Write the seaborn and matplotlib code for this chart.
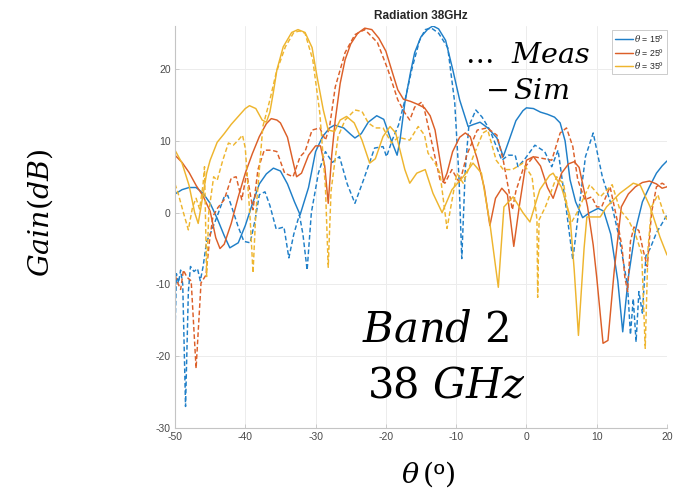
import matplotlib
matplotlib.use("Agg")
import matplotlib.pyplot as plt
from matplotlib.lines import Line2D
import pandas as pd
import seaborn as sns

# Steering angles of the three beams and their line colours
ANGLES = ["15", "25", "35"]
COLORS = {"15": "#1f7fc8", "25": "#dc5f28", "35": "#eeb52e"}
X_TICKS = [-50, -40, -30, -20, -10, 0, 10, 20]
Y_TICKS = [-30, -20, -10, 0, 10, 20]

# Simulated gain (dB) versus theta (deg)
SIM_15 = [(-50, 2.6), (-49, 3.2), (-48, 3.5), (-47, 3.5), (-46, 2.7), (-45, 1.3), (-44, -0.8),
          (-43, -3.2), (-42.2, -4.9), (-41, -4.2), (-40, -1.8), (-39, 1.2), (-38, 4.0), (-37, 5.4),
          (-36, 6.2), (-35, 5.8), (-34, 4.0), (-33, 1.5), (-32.2, -0.3), (-31, 3.5), (-30, 8.5),
          (-29, 10.6), (-28, 11.8), (-27.3, 12.2), (-26, 11.8), (-25, 10.9), (-24.4, 10.4),
          (-23.5, 11.0), (-22.5, 12.6), (-21.3, 13.5), (-20.3, 13.0), (-19.4, 10.5), (-18.4, 8.0),
          (-18, 10.0), (-17.3, 15.3), (-16.5, 19.5), (-15.9, 22.3), (-15, 24.5), (-14, 25.6),
          (-13.3, 26.0), (-12.5, 25.6), (-11.5, 24.0), (-10.5, 20.0), (-9.5, 15.7), (-8.3, 12.0),
          (-7.5, 12.3), (-6.6, 12.6), (-5.5, 11.8), (-4.2, 10.4), (-3.3, 7.8), (-2.5, 10.0),
          (-1.5, 12.8), (-0.5, 14.2), (0, 14.6), (1, 14.5), (2, 14.0), (3, 13.7), (4, 13.3),
          (4.8, 12.5), (5.5, 10.0), (6.2, 4.6), (7, 1.5), (8, -0.7), (9, 0.0), (10.2, 0.6),
          (11, 0.2), (12, -3.0), (13, -9.5), (13.7, -16.6), (14.5, -9.0), (15.5, -2.5),
          (16.5, 1.5), (17.5, 3.6), (18.5, 5.5), (19.3, 6.5), (20, 7.2)]

SIM_25 = [(-50, 8.0), (-49, 7.0), (-48, 5.6), (-47, 3.8), (-46, 2.3), (-45, 0.2), (-44.2, -3.5),
          (-43.6, -5.0), (-43, -4.4), (-42, -1.5), (-41, 2.2), (-40, 5.5), (-39, 8.2), (-38, 10.6),
          (-37, 12.4), (-36.3, 13.1), (-35.5, 12.9), (-35, 12.5), (-34, 10.5), (-33.3, 7.5),
          (-32.7, 5.0), (-32, 5.5), (-31, 8.0), (-30, 9.3), (-29.3, 9.3), (-28.7, 6.5),
          (-28.2, 1.3), (-27.7, 8.0), (-27.2, 12.9), (-26.5, 18.0), (-25.8, 21.3), (-25, 23.5),
          (-24, 25.0), (-23, 25.7), (-22, 25.5), (-21, 24.3), (-20, 22.5), (-19, 19.3),
          (-18.3, 17.1), (-17.5, 15.8), (-16.5, 15.5), (-15.5, 15.1), (-14.5, 14.6),
          (-13.7, 13.5), (-13, 11.5), (-12.5, 8.5), (-11.8, 4.3), (-11.3, 5.5), (-10.5, 8.5),
          (-9.5, 10.5), (-8.7, 11.1), (-8, 10.6), (-7, 7.5), (-6, 3.5), (-5.2, -1.8), (-4.4, 2.0),
          (-3.5, 3.4), (-2.7, 2.5), (-1.8, -4.7), (-1, 1.0), (0, 7.3), (1, 7.8), (2, 6.5),
          (3, 3.5), (3.8, 2.0), (5, 5.5), (6, 6.8), (6.8, 7.1), (7.5, 6.3), (8, 4.0), (8.7, 0.8),
          (9.5, -4.5), (10, -9.0), (10.9, -18.2), (11.6, -17.8), (12.5, -8.0), (13.5, 0.8),
          (14.5, 2.6), (15.5, 3.6), (16.5, 4.2), (17.5, 4.4), (18.5, 4.0), (19.3, 3.4), (20, 3.6)]

SIM_35 = [(-50, 8.7), (-49, 6.9), (-48, 3.8), (-47.2, 0.0), (-46.7, -1.5), (-46.3, 0.8),
          (-45.5, 5.5), (-45, 7.3), (-44, 9.8), (-43, 11.0), (-42, 12.3), (-41, 13.4), (-40, 14.5),
          (-39.4, 14.9), (-38.5, 14.5), (-37.6, 12.9), (-37, 12.6), (-36.5, 14.0), (-36, 16.8),
          (-35.5, 19.9), (-34.6, 23.1), (-33.4, 25.1), (-32.5, 25.5), (-31.5, 25.1), (-30.5, 23.0),
          (-29.8, 19.0), (-28.9, 14.3), (-28.2, 11.5), (-27.3, 11.3), (-26.5, 12.9), (-25.6, 13.4),
          (-24.5, 12.5), (-23.4, 10.1), (-22.3, 6.9), (-21.5, 7.5), (-20.4, 10.6), (-19.4, 12.0),
          (-18.6, 11.1), (-17.3, 6.0), (-16.6, 4.1), (-15.6, 5.5), (-14.4, 6.0), (-13.3, 2.7),
          (-12, 0.0), (-10.6, 3.2), (-9, 5.0), (-7.6, 6.9), (-6.4, 5.5), (-5.2, -1.5),
          (-4.0, -10.4), (-3.2, 0.8), (-1.9, 2.2), (-0.5, 0.0), (0.5, -1.3), (1.9, 3.2),
          (3.3, 5.2), (3.8, 5.5), (5, 3.5), (6.2, -0.5), (6.8, -8.0), (7.4, -17.1), (8.2, -5.0),
          (8.6, -0.6), (10.5, -0.6), (11.4, 0.8), (13.3, 2.7), (15.2, 4.1), (16.2, 3.8),
          (17.6, 0.8), (19, -3.4), (20, -5.9)]

# Measured gain (dB) versus theta (deg)
MEAS_15 = [(-50, -17.0), (-49.8, -8.5), (-49.5, -9.8), (-49.2, -8.0), (-48.9, -10.0),
           (-48.5, -27.0), (-48.1, -11.0), (-47.8, -7.5), (-47.3, -8.2), (-46.8, -7.8),
           (-46.4, -9.5), (-46, -7.5), (-45.5, -4.0), (-45, -3.0), (-44, -0.5), (-43, 2.2),
           (-42.5, 2.4), (-42, 1.0), (-41, -2.0), (-40.2, -4.0), (-39.3, -4.2), (-38.6, -1.0),
           (-38, 2.5), (-37.2, 2.9), (-36.5, 1.0), (-35.6, -2.3), (-34.5, -2.0), (-33.8, -6.3),
           (-33.1, -3.0), (-32.3, -0.3), (-31.8, -3.0), (-31.2, -8.0), (-30.6, 0.0), (-29.6, 5.5),
           (-28.6, 8.5), (-27.6, 7.0), (-26.6, 7.8), (-25.5, 4.0), (-24.4, 1.3), (-23.2, 4.5),
           (-21.6, 9.0), (-20.4, 9.2), (-19.9, 7.8), (-19.1, 10.1), (-18.2, 12.2), (-17.2, 16.0),
           (-16.3, 20.0), (-15.2, 24.0), (-14.4, 25.5), (-13.5, 25.7), (-12.5, 25.0),
           (-11.2, 23.0), (-10.2, 15.3), (-9.6, 5.0), (-9.2, -6.4), (-8.7, 6.0), (-8.2, 12.0),
           (-7.2, 14.3), (-6.3, 13.3), (-5.2, 11.5), (-3.5, 7.3), (-2.6, 8.0), (-1.6, 8.0),
           (-1.2, 6.4), (-0.2, 7.5), (1.2, 9.4), (2.6, 8.5), (3.6, 6.4), (4.5, 8.7), (5.6, 1.0),
           (6.6, -6.6), (7.4, 0.0), (8.4, 7.8), (9.5, 11.1), (10.8, 5.0), (12.3, 0.4),
           (13.2, -3.5), (14, -8.0), (14.4, -10.4), (14.8, -17.0), (15.2, -12.0), (15.6, -18.0),
           (16.0, -11.0), (16.5, -14.0), (17.0, -6.0), (17.6, -5.0), (18.5, -2.8), (19.3, -1.5),
           (20, -0.3)]

MEAS_25 = [(-50, -8.7), (-49.6, -9.8), (-49.2, -10.7), (-48.8, -8.0), (-48.3, -9.0),
           (-47.7, -9.5), (-47.0, -21.7), (-46.3, -9.8), (-45.6, -8.7), (-45.1, -4.0),
           (-44.6, -0.5), (-43.9, 0.7), (-43, 1.8), (-42, 4.8), (-41.3, 5.0), (-40.5, 1.8),
           (-39.8, 5.5), (-38.9, 0.4), (-38.2, 6.0), (-37.3, 8.7), (-36.3, 8.7), (-35.5, 8.5),
           (-34.4, 5.5), (-33.2, 5.0), (-32.2, 7.8), (-31.5, 8.5), (-30.5, 11.5), (-29.4, 11.8),
           (-28.6, 10.1), (-28, 12.0), (-27.2, 17.5), (-25.8, 22.3), (-24.4, 24.8), (-23, 25.5),
           (-21.2, 23.7), (-19.7, 19.9), (-18.3, 15.7), (-17.3, 13.9), (-16.6, 12.9),
           (-15.9, 14.7), (-14.9, 15.4), (-14.5, 14.3), (-13.7, 10.8), (-12.3, 4.6),
           (-11.6, 4.1), (-10.6, 6.0), (-9.5, 4.1), (-8.5, 8.0), (-7, 11.5), (-5.6, 11.8),
           (-4.2, 10.8), (-3.3, 7.3), (-2.0, 0.4), (-1.5, 3.0), (-0.5, 6.0), (1.0, 7.8),
           (2.6, 7.5), (3.6, 7.3), (4.8, 11.1), (5.7, 11.8), (6.6, 9.2), (7.3, 4.6), (8.3, 1.8),
           (9.3, 2.2), (10.0, 0.8), (10.7, 0.8), (11.9, 3.6), (12.9, -1.0), (13.6, -4.8),
           (14.0, -9.0), (14.4, -11.0), (14.8, -4.0), (15.3, -2.0), (16.0, -2.5), (16.6, -5.2),
           (17.2, -7.5), (17.8, 0.0), (18.5, 3.6), (19.3, 4.1), (20, 3.7)]

MEAS_35 = [(-50, 4.0), (-49.5, 2.5), (-48.8, 0.0), (-48.1, -2.4), (-47.5, 0.8), (-47, 2.0),
           (-46.5, 0.5), (-46, 4.0), (-45.8, 6.4), (-45.5, -8.9), (-45.2, 0.0), (-44.5, 5.0),
           (-44, 4.5), (-43.2, 7.3), (-42.4, 9.7), (-41.7, 9.4), (-41, 10.1), (-40.4, 10.8),
           (-40, 9.0), (-39.3, -1.0), (-38.9, -8.4), (-38.5, 0.0), (-37.5, 12.0), (-36.5, 15.7),
           (-35.6, 19.5), (-34.3, 23.1), (-33.1, 25.1), (-32.3, 25.3), (-31.5, 25.0),
           (-30.4, 21.3), (-29.4, 13.9), (-28.6, 3.6), (-28.2, -7.6), (-27.8, 3.0), (-26.8, 10.6),
           (-25.8, 12.9), (-24.4, 14.3), (-23.4, 14.1), (-22.5, 12.5), (-21.5, 11.8),
           (-20.4, 11.8), (-19.2, 9.7), (-18.2, 10.5), (-16.6, 10.1), (-15.4, 12.0),
           (-14.5, 10.8), (-14.0, 8.3), (-13.0, 6.9), (-12.3, 5.5), (-11.3, -2.2), (-9.9, 5.5),
           (-9.0, 4.1), (-7.5, 8.0), (-6.2, 11.1), (-5.5, 11.5), (-4.3, 7.3), (-3.3, 6.0),
           (-2, 6.0), (-0.5, 6.9), (0.8, 5.0), (1.5, -1.0), (1.6, -11.8), (1.8, -1.0), (2.7, 0.8),
           (4.3, 5.0), (5.3, 4.0), (6.2, -1.7), (7.2, 0.0), (9.0, 3.9), (10.5, 2.2), (12.2, 3.9),
           (13.3, 0.4), (14.5, -1.0), (15.5, -3.0), (16.4, -5.7), (16.9, -18.9), (17.3, -5.0),
           (17.8, 0.8), (18.7, 2.5), (19.5, 0.0), (20, -1.0)]

SERIES = {("15", "Sim"): SIM_15, ("25", "Sim"): SIM_25, ("35", "Sim"): SIM_35,
          ("15", "Meas"): MEAS_15, ("25", "Meas"): MEAS_25, ("35", "Meas"): MEAS_35}

rows = []
for (angle, kind), pts in SERIES.items():
    for t, g in pts:
        rows.append({"theta": t, "gain": g, "angle": angle, "kind": kind})
df = pd.DataFrame(rows)

sns.set_style("ticks")
plt.rcParams["font.family"] = ["Liberation Sans", "DejaVu Sans"]
plt.rcParams["mathtext.fontset"] = "dejavuserif"
plt.rcParams["axes.unicode_minus"] = False

W, H = 687, 491
fig = plt.figure(figsize=(W / 100, H / 100), dpi=100)
ax = fig.add_axes([175 / W, 1 - 428 / H, (667 - 175) / W, (428 - 26) / H])

sns.lineplot(data=df, x="theta", y="gain", hue="angle", style="kind",
             palette=COLORS, hue_order=ANGLES, style_order=["Sim", "Meas"],
             dashes={"Sim": "", "Meas": (3.2, 1.8)}, estimator=None,
             linewidth=1.05, legend=False, ax=ax)

ax.set_xlim(-50, 20)
ax.set_ylim(-30, 26)
ax.set_xticks(X_TICKS)
ax.set_yticks(Y_TICKS)
ax.set_xlabel("")
ax.set_ylabel("")
ax.grid(True, color="#ececec", linewidth=0.7)
ax.set_axisbelow(True)
for side in ("top", "right"):
    ax.spines[side].set_visible(False)
for side in ("left", "bottom"):
    ax.spines[side].set_color("#c4c4c4")
    ax.spines[side].set_linewidth(0.8)
ax.tick_params(direction="in", length=3, width=0.6, color="#c4c4c4",
               labelcolor="#4a4a4a", labelsize=7.5, pad=3)

handles = [Line2D([0], [0], color=COLORS[a], lw=1.05) for a in ANGLES]
labels = [rf"$\theta$ = {a}º" for a in ANGLES]
leg = ax.legend(handles, labels, loc="upper right", bbox_to_anchor=(1.0, 0.99),
                borderaxespad=0, fontsize=6.3, frameon=True, fancybox=False,
                framealpha=1, edgecolor="#c4c4c4", borderpad=0.35,
                labelspacing=0.3, handlelength=2.0, handletextpad=0.15)
leg.get_frame().set_linewidth(0.6)

fig.text(421 / W, 1 - 16 / H, "Radiation 38GHz", ha="center", va="center",
         fontsize=8.5, fontweight="bold", color="#262626")

serif = {"color": "black"}
fig.text(465 / W, 1 - 63 / H, r"$\ldots\ \ Meas$", ha="left", va="baseline",
         fontsize=20.5, **serif)
fig.text(485 / W, 1 - 99 / H, r"$-\,Sim$", ha="left", va="baseline",
         fontsize=20.5, **serif)
fig.text(436 / W, 1 - 342 / H, r"$Band\ 2$", ha="center", va="baseline",
         fontsize=30, **serif)
fig.text(447 / W, 1 - 397 / H, r"$38\ GHz$", ha="center", va="baseline",
         fontsize=30, **serif)
fig.text(40 / W, 1 - 213 / H, r"$Gain(dB)$", ha="center", va="center",
         rotation=90, fontsize=20.5, **serif)
fig.text(428 / W, 1 - 474 / H, r"$\theta\,($º$)$", ha="center", va="center",
         fontsize=20.5, **serif)

fig.savefig("out.png", dpi=100)
